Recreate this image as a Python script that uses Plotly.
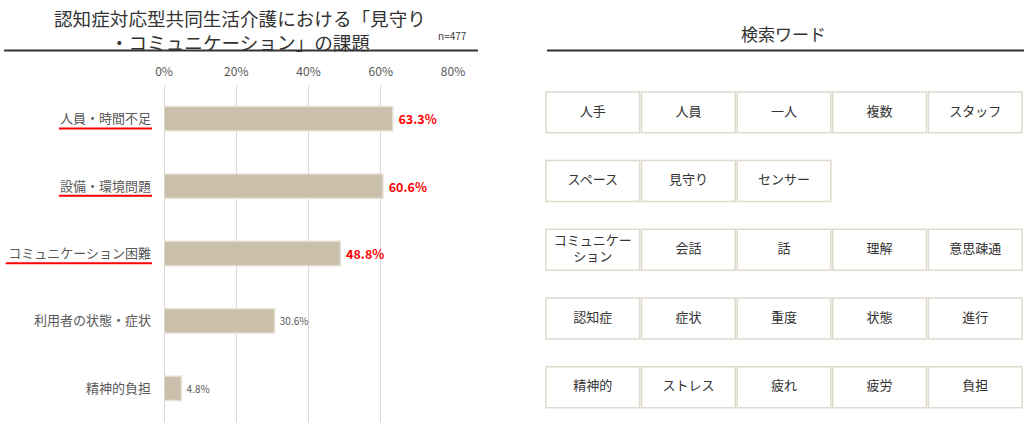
import plotly.graph_objects as go

# ---- data ----
categories = ["人員・時間不足", "設備・環境問題", "コミュニケーション困難", "利用者の状態・症状", "精神的負担"]
values = [63.3, 60.6, 48.8, 30.6, 4.8]
highlighted = [True, True, True, False, False]
x_ticks = [0, 20, 40, 60, 80]
x_tick_labels = ["0%", "20%", "40%", "60%", "80%"]

keyword_row1 = ["人手", "人員", "一人", "複数", "スタッフ"]
keyword_row2 = ["スペース", "見守り", "センサー"]
keyword_row3 = ["コミュニケー<br>ション", "会話", "話", "理解", "意思疎通"]
keyword_row4 = ["認知症", "症状", "重度", "状態", "進行"]
keyword_row5 = ["精神的", "ストレス", "疲れ", "疲労", "負担"]
keyword_rows = [keyword_row1, keyword_row2, keyword_row3, keyword_row4, keyword_row5]

FONT = "Noto Sans CJK JP"
W, H = 1024, 435

fig = go.Figure()

# ---- bar chart ----
bar_text = [f" <b>{v}%</b>" if h else f" {v}%" for v, h in zip(values, highlighted)]
fig.add_trace(go.Bar(
    x=values, y=categories, orientation="h",
    marker=dict(color="#c9bfab", line=dict(color="#e6dfd3", width=1.5)),
    width=0.36,
    text=bar_text, textposition="outside",
    textfont=dict(color=["#ff0000" if h else "#595959" for h in highlighted],
                  size=[12.5 if h else 10 for h in highlighted], family=FONT),
    cliponaxis=False,
    xaxis="x", yaxis="y", hoverinfo="skip",
))

# header rules
fig.add_shape(type="line", xref="paper", yref="paper", x0=4 / W, x1=478 / W,
              y0=1 - 50.5 / H, y1=1 - 50.5 / H, line=dict(color="#333333", width=2))
fig.add_shape(type="line", xref="paper", yref="paper", x0=547 / W, x1=1,
              y0=1 - 50.5 / H, y1=1 - 50.5 / H, line=dict(color="#333333", width=2))

# underline highlighted categories
dom_px = 453 - 164
for i, (c, h) in enumerate(zip(categories, highlighted)):
    if h:
        length = len(c) * 13.3
        fig.add_shape(type="line", xref="x domain", yref="y",
                      x0=(-12 - length) / dom_px, x1=-12 / dom_px,
                      y0=i + 0.145, y1=i + 0.145,
                      line=dict(color="#ff0000", width=2))

# ---- keyword grid ----
kx, ky, kt = [], [], []
for r, row in enumerate(keyword_rows):
    for c, word in enumerate(row):
        kx.append(c)
        ky.append(r)
        kt.append(word)
        fig.add_shape(type="rect", xref="x2", yref="y2",
                      x0=c - 0.49, x1=c + 0.49, y0=r - 0.298, y1=r + 0.298,
                      line=dict(color="#e0d9cd", width=1.5), fillcolor="rgba(0,0,0,0)",
                      layer="above")
fig.add_trace(go.Scatter(
    x=kx, y=ky, text=kt, mode="text",
    textfont=dict(size=13, color="#333333", family=FONT),
    xaxis="x2", yaxis="y2", hoverinfo="skip", showlegend=False,
))

fig.update_layout(
    width=W, height=H,
    margin=dict(l=0, r=0, t=0, b=0, autoexpand=False),
    paper_bgcolor="white", plot_bgcolor="white",
    showlegend=False,
    font=dict(family=FONT, color="#595959"),
    xaxis=dict(domain=[164 / W, 453 / W], range=[0, 80], side="top",
               tickvals=x_ticks, ticktext=x_tick_labels,
               tickfont=dict(size=12, color="#595959"),
               showgrid=True, gridcolor="#d9d9d9", gridwidth=1,
               zeroline=True, zerolinecolor="#d9d9d9", zerolinewidth=1,
               showline=False, ticks="", ticklabelstandoff=6, fixedrange=True,
               automargin=False),
    yaxis=dict(domain=[(H - 422) / H, (H - 85) / H], autorange="reversed",
               tickfont=dict(size=13, color="#595959"),
               showgrid=False, zeroline=False, showline=False, ticks="",
               ticklabelstandoff=12, fixedrange=True, automargin=False),
    xaxis2=dict(domain=[545 / W, 1023 / W], range=[-0.5, 4.5], visible=False,
                anchor="y2", fixedrange=True),
    yaxis2=dict(domain=[(H - 421.6) / H, (H - 78) / H], range=[4.5, -0.5], visible=False,
                anchor="x2", fixedrange=True),
    annotations=[
        dict(text="認知症対応型共同生活介護における「見守り<br>・コミュニケーション」の課題",
             x=240 / W, y=1 - 2 / H, xref="paper", yref="paper", xanchor="center", yanchor="top",
             showarrow=False, font=dict(size=18.6, color="#333333", family=FONT), align="center"),
        dict(text="n=477", x=452 / W, y=1 - 36 / H, xref="paper", yref="paper",
             xanchor="center", yanchor="middle", showarrow=False,
             font=dict(size=10, color="#404040", family=FONT)),
        dict(text="検索ワード", x=783 / W, y=1 - 33 / H, xref="paper", yref="paper",
             xanchor="center", yanchor="middle", showarrow=False,
             font=dict(size=17, color="#333333", family=FONT)),
    ],
)

fig.write_html("out.html", config={"displayModeBar": False},
               post_script="document.body.style.margin='0px';document.body.style.overflow='hidden';")
